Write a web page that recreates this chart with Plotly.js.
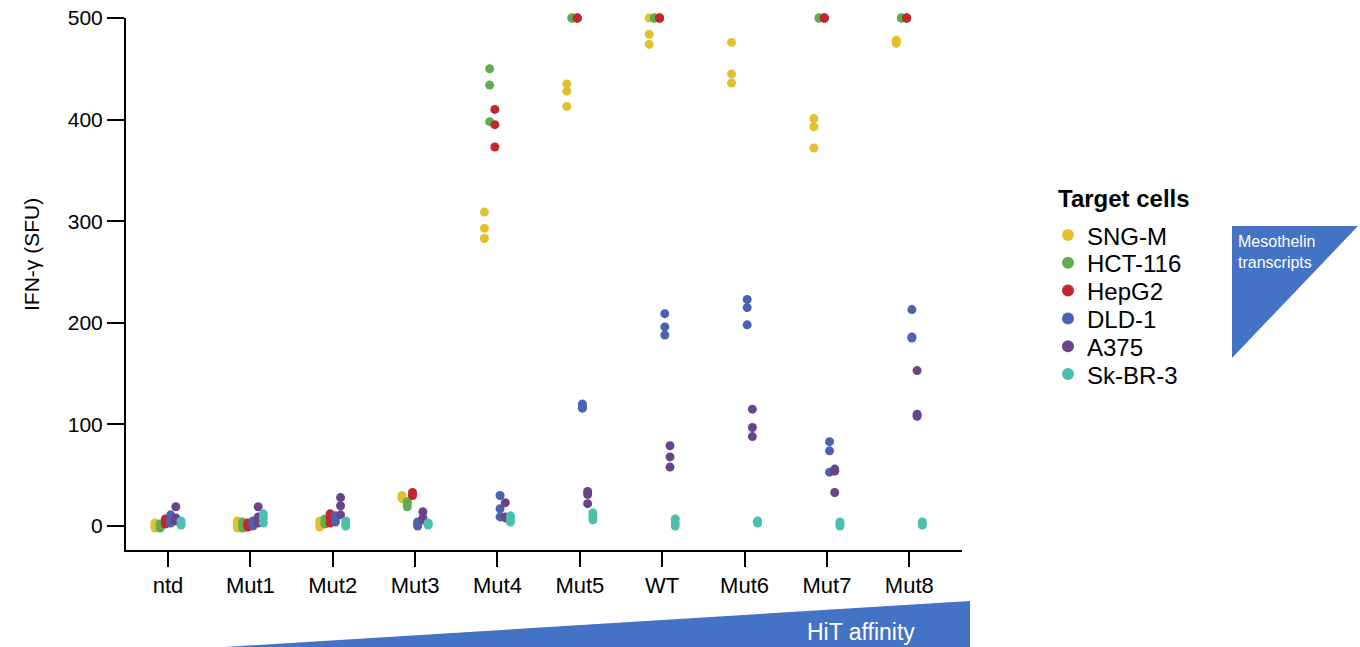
<!DOCTYPE html>
<html>
<head>
<meta charset="utf-8">
<script src="https://cdn.plot.ly/plotly-3.0.1.min.js"></script>
<style>html,body{margin:0;padding:0;background:#fff;}#chart{width:1360px;height:647px;}</style>
</head>
<body>
<div id="chart"></div>
<script>
const categories = ["ntd","Mut1","Mut2","Mut3","Mut4","Mut5","WT","Mut6","Mut7","Mut8"];
const cellLines = ["SNG-M","HCT-116","HepG2","DLD-1","A375","Sk-BR-3"];

// IFN-gamma SFU per category (replicates)
const sngM   = [[3,-2,0],[5,-2,1],[5,-1,3],[28,30,27],[309,293,283],[435,428,413],[500,484,474],[476,445,436],[401,393,372],[478,475,477]];
const hct116 = [[2,-2,1],[4,-2,0],[7,4,2],[24,19,22],[450,434,398],[500,500,500],[500,500,500],[501,501,501],[500,500,500],[500,500,500]];
const hepG2  = [[7,2,4],[3,-1,1],[12,3,8],[33,31,30],[410,395,373],[500,500,500],[500,500,500],[501,501,501],[500,500,500],[500,500,500]];
const dld1   = [[11,3,5],[2,0,5],[7,4,10],[4,0,2],[30,17,9],[120,116,117],[209,196,188],[223,215,198],[83,74,53],[213,185,186]];
const a375   = [[19,8,5],[19,9,3],[28,20,11],[14,8,6],[23,9,8],[34,31,22],[79,68,58],[115,97,88],[56,33,54],[153,110,108]];
const skBR3  = [[5,1,2],[12,3,8],[5,0,2],[2,3,1],[10,4,7],[13,6,9],[7,3,0],[5,4,3],[4,0,2],[4,1,2]];

const seriesValues = [sngM, hct116, hepG2, dld1, a375, skBR3];
const colors = ["#E3C02E","#5FAE51","#C1272D","#4A62B4","#6A448A","#4DBFAF"];

const traces = cellLines.map((name, i) => {
  const xs = [], ys = [];
  seriesValues[i].forEach((vals, c) => vals.forEach(v => { xs.push(categories[c]); ys.push(v); }));
  return {
    type: "scatter", mode: "markers", name: name, x: xs, y: ys,
    offsetgroup: name, alignmentgroup: "g",
    marker: {color: colors[i], size: 9, line: {width: 0}},
    cliponaxis: false, showlegend: false
  };
});

const L = 126, R = 962, T = 18, B = 550, W = 1360, H = 647;
const px = p => (p - L) / (R - L);
const py = p => (B - p) / (B - T);

const blue = "#4472C4";
const shapes = [
  {type: "path", xref: "paper", yref: "paper", line: {width: 0}, fillcolor: blue,
   path: `M ${px(1232)} ${py(226)} L ${px(1358)} ${py(226)} L ${px(1232)} ${py(358)} Z`},
  {type: "path", xref: "paper", yref: "paper", line: {width: 0}, fillcolor: blue,
   path: `M ${px(225)} ${py(647)} L ${px(970)} ${py(601)} L ${px(970)} ${py(647)} Z`}
];
const annotations = [
  {text: "IFN-γ (SFU)", xref: "paper", yref: "paper", x: px(31), y: py(255),
   textangle: -90, showarrow: false, font: {size: 21}, xanchor: "center", yanchor: "middle"},
  {text: "Mesothelin", xref: "paper", yref: "paper", x: px(1236), y: py(241),
   showarrow: false, xanchor: "left", yanchor: "middle", font: {size: 16, color: "#fff"}},
  {text: "transcripts", xref: "paper", yref: "paper", x: px(1236), y: py(262),
   showarrow: false, xanchor: "left", yanchor: "middle", font: {size: 16, color: "#fff"}},
  {text: "HiT affinity", xref: "paper", yref: "paper", x: px(805), y: py(632),
   showarrow: false, xanchor: "left", yanchor: "middle", font: {size: 23, color: "#fff"}},
  {text: "<b>Target cells</b>", xref: "paper", yref: "paper", x: px(1056), y: py(198),
   showarrow: false, xanchor: "left", yanchor: "middle", font: {size: 24}}
];
// legend entries
const legTop = 235, legStep = 27.8, mx = 1068, mr = 6;
cellLines.forEach((name, i) => {
  const cy = legTop + i * legStep;
  shapes.push({type: "circle", xref: "paper", yref: "paper", line: {width: 0}, fillcolor: colors[i],
    x0: px(mx - mr), x1: px(mx + mr), y0: py(cy + mr), y1: py(cy - mr)});
  annotations.push({text: name, xref: "paper", yref: "paper", x: px(1085), y: py(cy + 1),
    showarrow: false, xanchor: "left", yanchor: "middle", font: {size: 24}});
});

const layout = {
  width: W, height: H,
  margin: {l: L, r: W - R, t: T, b: H - B, pad: 0},
  paper_bgcolor: "#fff", plot_bgcolor: "#fff",
  font: {family: "Liberation Sans, Arial, sans-serif", size: 20, color: "#000"},
  scattermode: "group", scattergap: 0.62,
  showlegend: false,
  xaxis: {
    type: "category", categoryorder: "array", categoryarray: categories,
    range: [-0.51, 9.64], showgrid: false, zeroline: false,
    showline: true, linecolor: "#000", linewidth: 2,
    ticks: "outside", ticklen: 15, tickwidth: 2, tickcolor: "#000",
    tickfont: {size: 22}, fixedrange: true
  },
  yaxis: {
    range: [-23.6, 500], tickvals: [0,100,200,300,400,500],
    showgrid: false, zeroline: false,
    showline: true, linecolor: "#000", linewidth: 2,
    ticks: "outside", ticklen: 17, tickwidth: 2, tickcolor: "#000",
    tickfont: {size: 21}, fixedrange: true
  },
  shapes: shapes,
  annotations: annotations
};

Plotly.newPlot("chart", traces, layout, {displayModeBar: false, staticPlot: true});
</script>
</body>
</html>
